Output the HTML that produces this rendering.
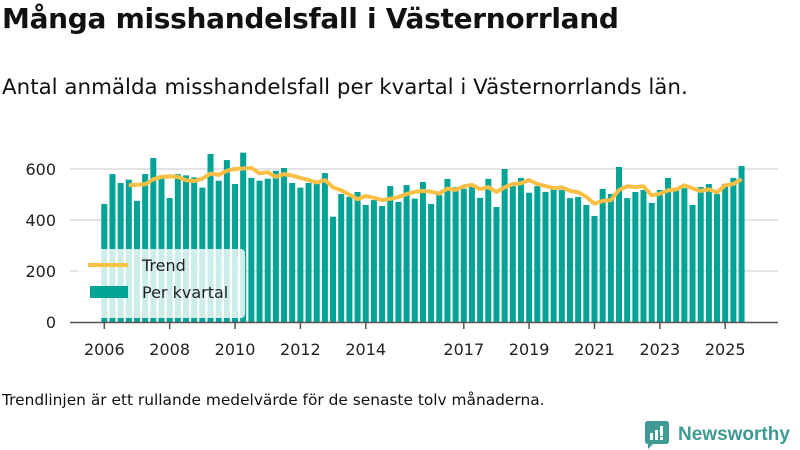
<!DOCTYPE html>
<html><head><meta charset="utf-8"><style>
body{margin:0;width:800px;height:450px;background:#fff;font-family:"DejaVu Sans","Liberation Sans",sans-serif;overflow:hidden;position:relative;color:#111}
h1{position:absolute;left:2px;top:2px;margin:0;font-size:28px;font-weight:bold;letter-spacing:-0.3px}
.sub{position:absolute;left:2px;top:75px;font-size:21.4px}
.foot{position:absolute;left:2px;top:391px;font-size:15.4px}
svg{position:absolute;left:0;top:0}
</style></head><body>
<h1>Många misshandelsfall i Västernorrland</h1>
<div class="sub">Antal anmälda misshandelsfall per kvartal i Västernorrlands län.</div>
<div class="foot">Trendlinjen är ett rullande medelvärde för de senaste tolv månaderna.</div>
<svg id="c" width="800" height="450"></svg>
<script>
const values=[463,580,545,558,475,580,643,575,486,580,575,567,527,659,554,635,541,664,565,554,562,593,604,545,527,545,554,584,413,502,491,510,459,478,455,533,471,537,484,549,463,498,561,529,523,531,487,561,451,600,533,565,507,533,510,533,518,486,490,459,416,522,502,608,486,510,518,467,518,565,518,525,459,529,541,502,541,565,612];
const trend=[null,null,null,537,538,540,560,569,571,569,556,553,562,582,577,593,600,602,604,583,587,569,580,574,565,557,547,557,528,516,500,482,494,487,478,483,490,502,510,514,511,503,523,518,532,538,521,529,510,528,541,544,557,541,533,525,528,514,509,491,464,475,478,518,532,529,532,497,503,516,520,536,524,514,520,509,536,541,560];
const yTicks=[0,200,400,600];
const xTickLabels=["2006","2008","2010","2012","2014","2017","2019","2021","2023","2025"];
const xTickIndex=[0,8,16,24,32,44,52,60,68,76];
const NS="http://www.w3.org/2000/svg";
const svg=document.getElementById('c');
const X=i=>104.3+8.17*i;
const Y=v=>322-v*0.255;
function mk(t,a){const e=document.createElementNS(NS,t);for(const k in a)e.setAttribute(k,a[k]);svg.appendChild(e);return e;}
yTicks.forEach(v=>{
 if(v>0){const g=mk('line',{x1:70,x2:778,y1:Y(v),y2:Y(v),stroke:'#dcdcdc','stroke-width':1.5});
 
 }
 const t=mk('text',{x:56,y:Y(v)+6,'text-anchor':'end','font-size':16,fill:'#222'});t.textContent=v;
 
 
});
values.forEach((v,i)=>{
 const r=mk('rect',{x:X(i)-3,y:Y(v),width:6,height:322-Y(v),fill:'#00a396'});
 
 
});
const ax=mk('line',{x1:70,x2:778,y1:322.5,y2:322.5,stroke:'#555','stroke-width':1.5});


xTickIndex.forEach((idx,k)=>{
 const tk=mk('line',{x1:X(idx),x2:X(idx),y1:323,y2:329,stroke:'#555','stroke-width':1.5});
 
 
 const t=mk('text',{x:X(idx),y:355,'text-anchor':'middle','font-size':16,fill:'#222'});t.textContent=xTickLabels[k];
 
 
});
let d='';trend.forEach((v,i)=>{if(v!=null)d+=(d?'L':'M')+X(i).toFixed(1)+','+Y(v).toFixed(1);});
const tl=mk('path',{d:d,fill:'none',stroke:'#fbbf45','stroke-width':4,'stroke-linejoin':'round'});


const lg=mk('rect',{x:78,y:249,width:167,height:69,rx:4,fill:'#fff','fill-opacity':0.8});


const l1=mk('line',{x1:88,x2:128,y1:265,y2:265,stroke:'#fbbf45','stroke-width':4});


const t1=mk('text',{x:142,y:271,'font-size':16,fill:'#222'});t1.textContent='Trend';


const l2=mk('rect',{x:90,y:286,width:38,height:12,fill:'#00a396'});


const t2=mk('text',{x:142,y:298,'font-size':16,fill:'#222'});t2.textContent='Per kvartal';


</script>
<div style="position:absolute;left:645px;top:421px;display:flex;align-items:center">
<svg width="24" height="28" style="position:static"><path d="M0,3 Q0,0 3,0 L21,0 Q24,0 24,3 L24,20 Q24,23 21,23 L8,23 L3,28 L3,23 Q0,23 0,20Z" fill="#3f9a94"/><rect x="5" y="12" width="3" height="7" fill="#fff"/><rect x="10" y="9" width="3" height="10" fill="#fff"/><rect x="15" y="5" width="3" height="10" fill="#fff"/><rect x="15" y="16" width="3" height="3" fill="#fff"/></svg>
<span style="margin-left:9px;font-size:19px;font-weight:bold;color:#3f9a94;font-family:'Liberation Sans',sans-serif">Newsworthy</span></div>
</body></html>
